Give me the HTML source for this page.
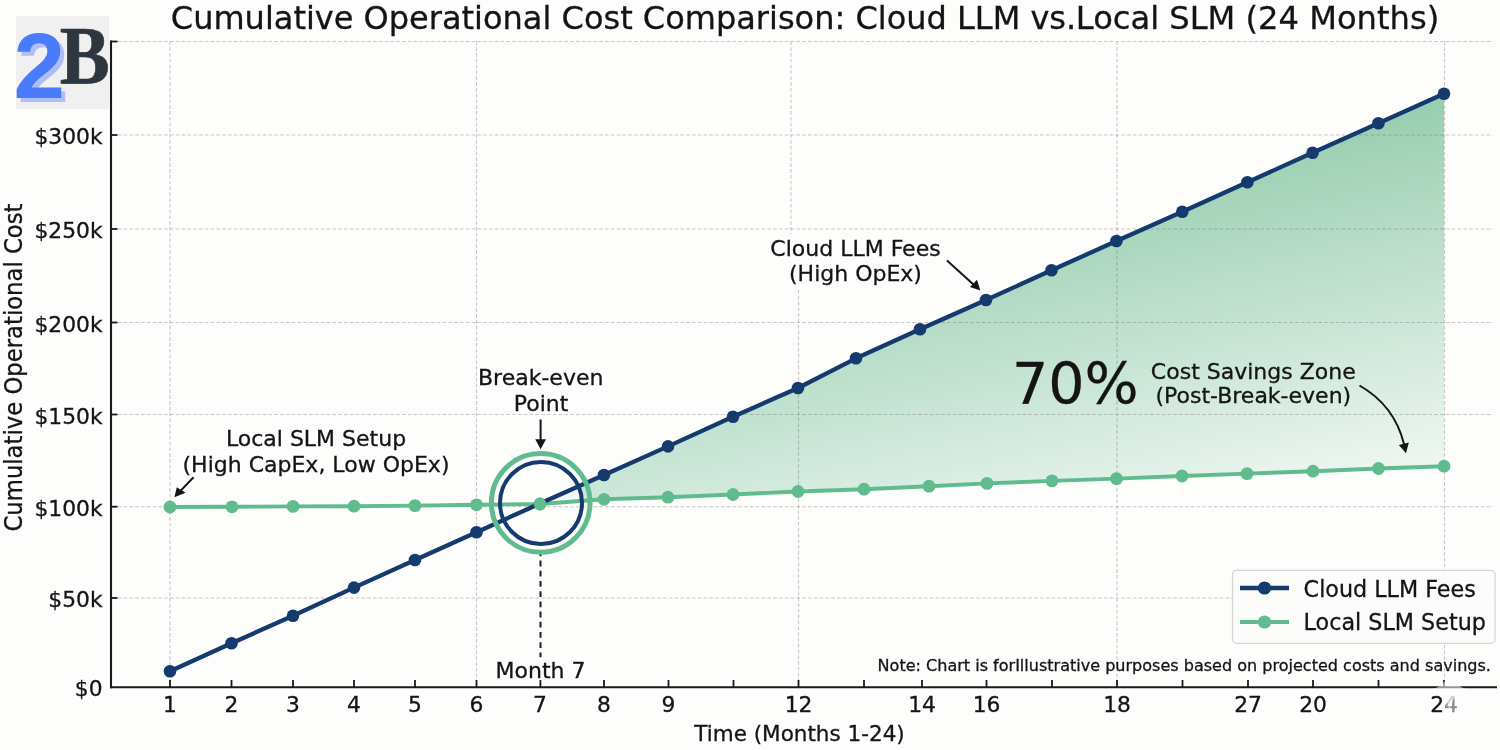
<!DOCTYPE html>
<html lang="en">
<head>
<meta charset="utf-8">
<title>Cumulative Operational Cost Comparison</title>
<style>
html,body{margin:0;padding:0;background:#fdfdfc;}
body{width:1500px;height:750px;overflow:hidden;position:relative;}
svg{position:absolute;left:0;top:0;display:block;will-change:transform;}
#fill{position:absolute;left:0;top:0;width:1500px;height:750px;
background:radial-gradient(circle at 545px 501.6px, rgba(203,231,216,1) 0px, rgba(203,231,216,0) 960px),
conic-gradient(from 0deg at 545px 501.6px, #99ceb0 65.6deg, #f2f8f4 87.74deg);
clip-path:polygon(548px 500px, 604px 475px, 668px 446.4px, 733px 416.8px, 798px 388px, 856px 358.3px, 920px 329.3px, 986px 300px, 1051.5px 270.3px, 1116.5px 241px, 1182.3px 211.7px, 1247.4px 182.2px, 1312.6px 152.8px, 1378.4px 123.3px, 1444px 93.7px, 1444px 466.2px, 1378.5px 468.5px, 1313px 471.2px, 1247px 473.6px, 1182px 476px, 1116.5px 478.6px, 1052px 480.9px, 987px 483.4px, 929px 486.2px, 864px 489.2px, 798px 491.5px, 733px 494.5px, 668px 497.2px, 604px 499.3px);}
text{font-family:"DejaVu Sans","Liberation Sans",sans-serif;fill:#141414;stroke:#141414;stroke-width:0.3px;}
.tick{font-size:21.8px;}
.ann{font-size:22px;}
.grid{stroke:#6f6a6c;stroke-opacity:0.36;stroke-width:1.1;stroke-dasharray:3.6 2.2;fill:none;}
.axis{stroke:#1a1a1a;stroke-width:2.1;fill:none;}
.tk{stroke:#1a1a1a;stroke-width:1.8;fill:none;}
.logo2{font-family:"Liberation Sans","DejaVu Sans",sans-serif;font-weight:bold;stroke:none;}
.logoB{font-family:"Liberation Serif","DejaVu Serif",serif;font-weight:bold;stroke:none;}
</style>
</head>
<body>
<div id="fill"></div>
<svg width="1500" height="750" viewBox="0 0 1500 750">
<text x="170.8" y="28.6" font-size="32">Cumulative Operational Cost Comparison: Cloud LLM vs.<tspan x="1075.8" font-size="32.15">Local SLM (24 Months)</tspan></text>
<circle cx="541" cy="503" r="41" fill="#fdfdfc" fill-opacity="0.75"/>
<g class="grid">
<line x1="112" y1="598" x2="1493" y2="598"/>
<line x1="112" y1="506.7" x2="1493" y2="506.7"/>
<line x1="112" y1="414.5" x2="1493" y2="414.5"/>
<line x1="112" y1="322.5" x2="1493" y2="322.5"/>
<line x1="112" y1="229" x2="1493" y2="229"/>
<line x1="112" y1="135" x2="1493" y2="135"/>
<line x1="112" y1="41.5" x2="1493" y2="41.5"/>
<line x1="170" y1="41.5" x2="170" y2="686"/>
<line x1="476.5" y1="41.5" x2="476.5" y2="686"/>
<line x1="1117" y1="41.5" x2="1117" y2="686"/>
<line x1="1444.5" y1="41.5" x2="1444.5" y2="686"/>
<line x1="791" y1="41.5" x2="791" y2="234"/>
<line x1="798.5" y1="290" x2="798.5" y2="686"/>
</g>
<line x1="540.5" y1="550.4" x2="540.5" y2="657.3" stroke="#1c1c1c" stroke-width="2" stroke-dasharray="5.8 4.4"/>
<polyline points="170,507 232,506.8 293,506.4 354,506.2 415,505.6 476.5,504.8 540,504 604,499.3 668,497.2 733,494.5 798,491.5 864,489.2 929,486.2 987,483.4 1052,480.9 1116.5,478.6 1182,476 1247,473.6 1313,471.2 1378.5,468.5 1444,466.2" fill="none" stroke="#60bc8e" stroke-width="3.9" stroke-linejoin="round"/>
<g fill="#60bc8e"><circle cx="170" cy="507" r="6.4"/><circle cx="232" cy="506.8" r="6.4"/><circle cx="293" cy="506.4" r="6.4"/><circle cx="354" cy="506.2" r="6.4"/><circle cx="415" cy="505.6" r="6.4"/><circle cx="476.5" cy="504.8" r="6.4"/><circle cx="540" cy="504" r="6.4"/><circle cx="604" cy="499.3" r="6.4"/><circle cx="668" cy="497.2" r="6.4"/><circle cx="733" cy="494.5" r="6.4"/><circle cx="798" cy="491.5" r="6.4"/><circle cx="864" cy="489.2" r="6.4"/><circle cx="929" cy="486.2" r="6.4"/><circle cx="987" cy="483.4" r="6.4"/><circle cx="1052" cy="480.9" r="6.4"/><circle cx="1116.5" cy="478.6" r="6.4"/><circle cx="1182" cy="476" r="6.4"/><circle cx="1247" cy="473.6" r="6.4"/><circle cx="1313" cy="471.2" r="6.4"/><circle cx="1378.5" cy="468.5" r="6.4"/><circle cx="1444" cy="466.2" r="6.4"/></g>
<polyline points="170,671.3 231.5,643.3 293,615.7 354,587.6 415,560 476.5,532.2 540.5,503.3 604,475 668,446.4 733,416.8 798,388 856,358.3 920,329.3 986,300 1051.5,270.3 1116.5,241 1182.3,211.7 1247.4,182.2 1312.6,152.8 1378.4,123.3 1444,93.7" fill="none" stroke="#143a6e" stroke-width="4.3" stroke-linejoin="round"/>
<g fill="#143a6e"><circle cx="170" cy="671.3" r="6.3"/><circle cx="231.5" cy="643.3" r="6.3"/><circle cx="293" cy="615.7" r="6.3"/><circle cx="354" cy="587.6" r="6.3"/><circle cx="415" cy="560" r="6.3"/><circle cx="476.5" cy="532.2" r="6.3"/><circle cx="604" cy="475" r="6.3"/><circle cx="668" cy="446.4" r="6.3"/><circle cx="733" cy="416.8" r="6.3"/><circle cx="798" cy="388" r="6.3"/><circle cx="856" cy="358.3" r="6.3"/><circle cx="920" cy="329.3" r="6.3"/><circle cx="986" cy="300" r="6.3"/><circle cx="1051.5" cy="270.3" r="6.3"/><circle cx="1116.5" cy="241" r="6.3"/><circle cx="1182.3" cy="211.7" r="6.3"/><circle cx="1247.4" cy="182.2" r="6.3"/><circle cx="1312.6" cy="152.8" r="6.3"/><circle cx="1378.4" cy="123.3" r="6.3"/><circle cx="1444" cy="93.7" r="6.3"/></g>
<circle cx="540.7" cy="502.9" r="49.3" fill="none" stroke="#60bc8e" stroke-width="5"/>
<circle cx="541" cy="503" r="41" fill="none" stroke="#143a6e" stroke-width="4"/>
<circle cx="540" cy="504" r="6.4" fill="#60bc8e"/>
<line class="axis" x1="111" y1="40.5" x2="111" y2="688.3"/>
<line class="axis" x1="110" y1="687.2" x2="1497" y2="687.2"/>
<g class="tk">
<line x1="170" y1="680" x2="170" y2="687"/>
<line x1="231.5" y1="680" x2="231.5" y2="687"/>
<line x1="293" y1="680" x2="293" y2="687"/>
<line x1="354" y1="680" x2="354" y2="687"/>
<line x1="415" y1="680" x2="415" y2="687"/>
<line x1="476.5" y1="680" x2="476.5" y2="687"/>
<line x1="540.4" y1="680" x2="540.4" y2="687"/>
<line x1="604" y1="680" x2="604" y2="687"/>
<line x1="668.5" y1="680" x2="668.5" y2="687"/>
<line x1="733.5" y1="680" x2="733.5" y2="687"/>
<line x1="798.5" y1="680" x2="798.5" y2="687"/>
<line x1="864" y1="680" x2="864" y2="687"/>
<line x1="922" y1="680" x2="922" y2="687"/>
<line x1="986.5" y1="680" x2="986.5" y2="687"/>
<line x1="1052" y1="680" x2="1052" y2="687"/>
<line x1="1117" y1="680" x2="1117" y2="687"/>
<line x1="1182.5" y1="680" x2="1182.5" y2="687"/>
<line x1="1248" y1="680" x2="1248" y2="687"/>
<line x1="1313" y1="680" x2="1313" y2="687"/>
<line x1="1378.5" y1="680" x2="1378.5" y2="687"/>
<line x1="1444" y1="680" x2="1444" y2="687"/>
<line x1="111" y1="598" x2="117.5" y2="598"/>
<line x1="111" y1="506.7" x2="117.5" y2="506.7"/>
<line x1="111" y1="414.5" x2="117.5" y2="414.5"/>
<line x1="111" y1="322.5" x2="117.5" y2="322.5"/>
<line x1="111" y1="229" x2="117.5" y2="229"/>
<line x1="111" y1="135" x2="117.5" y2="135"/>
<line x1="111" y1="41.5" x2="117.5" y2="41.5"/>
</g>
<g class="tick" text-anchor="middle">
<text x="170" y="712.3">1</text>
<text x="231.5" y="712.3">2</text>
<text x="293" y="712.3">3</text>
<text x="354" y="712.3">4</text>
<text x="415" y="712.3">5</text>
<text x="476.5" y="712.3">6</text>
<text x="540" y="712.3">7</text>
<text x="604" y="712.3">8</text>
<text x="668.5" y="712.3">9</text>
<text x="798.5" y="712.3">12</text>
<text x="922" y="712.3">14</text>
<text x="986.5" y="712.3">16</text>
<text x="1117" y="712.3">18</text>
<text x="1248" y="712.3">27</text>
<text x="1313" y="712.3">20</text>
<text x="1444" y="712.3">2<tspan style="fill:#8c8c8c;stroke:#8c8c8c">4</tspan></text>
</g>
<g class="tick" text-anchor="end">
<text x="102.6" y="696.4">$0</text>
<text x="102.6" y="607.4">$50k</text>
<text x="102.6" y="516.1">$100k</text>
<text x="102.6" y="423.9">$150k</text>
<text x="102.6" y="331.9">$200k</text>
<text x="102.6" y="238.4">$250k</text>
<text x="102.6" y="144.4">$300k</text>
</g>
<text x="799.5" y="741" font-size="21.5" text-anchor="middle">Time (Months 1-24)</text>
<text transform="translate(22.4,367.5) rotate(-90)" font-size="24" text-anchor="middle" textLength="328" lengthAdjust="spacingAndGlyphs">Cumulative Operational Cost</text>
<g class="ann" text-anchor="middle">
<text x="316" y="445.5">Local SLM Setup</text>
<text x="316" y="471.5">(High CapEx, Low OpEx)</text>
<text x="540.7" y="385">Break-even</text>
<text x="541" y="410.7">Point</text>
<text x="540.5" y="677.7">Month 7</text>
<text x="855.5" y="256">Cloud LLM Fees</text>
<text x="855.5" y="281">(High OpEx)</text>
<text x="1253.3" y="378.5">Cost Savings Zone</text>
<text x="1253.3" y="403.3">(Post-Break-even)</text>
</g>
<text x="1012" y="404" font-size="57">70%</text>
<text x="877.6" y="671.2" font-size="16.05">Note: Chart is forIllustrative purposes based on projected costs and savings.</text>
<g stroke="#151515" stroke-width="2" fill="none">
<line x1="193.6" y1="477.2" x2="180" y2="491.4"/>
<line x1="540.6" y1="419.5" x2="540.6" y2="441"/>
<line x1="947" y1="260.5" x2="974" y2="285"/>
<path d="M1359.5,385.5 C1385,400 1398,420 1404,444"/>
</g>
<g fill="#151515">
<polygon points="174.4,497.2 176.8,487.2 185.6,492.8"/>
<polygon points="540.6,449.3 535.2,439.3 546,439.3"/>
<polygon points="980.3,290.6 970,287 977,279.8"/>
<polygon points="1406,453.2 1398.8,445 1408.8,442.5"/>
</g>
<rect x="1232.5" y="570.3" width="262.5" height="73" rx="4" ry="4" fill="#fcfcfb" fill-opacity="0.97" stroke="#d6d6d6" stroke-width="1.3"/>
<line x1="1240" y1="588" x2="1289" y2="588" stroke="#143a6e" stroke-width="4.4"/>
<circle cx="1264.5" cy="588" r="6.6" fill="#143a6e"/>
<line x1="1240" y1="622" x2="1289" y2="622" stroke="#60bc8e" stroke-width="4.2"/>
<circle cx="1264.5" cy="622" r="6.6" fill="#60bc8e"/>
<text x="1303.6" y="597" font-size="22.25">Cloud LLM Fees</text>
<text x="1303.6" y="630.3" font-size="22.25">Local SLM Setup</text>
<path d="M1449.5,664 Q1449.5,690 1475.5,690 Q1449.5,690 1449.5,716 Q1449.5,690 1423.5,690 Q1449.5,690 1449.5,664 Z" fill="#fdfdfc" fill-opacity="0.55"/>
<rect x="16" y="16" width="93" height="93" fill="#f0f0f0"/>
<text class="logo2" x="17.6" y="102" font-size="92.5" style="fill:#afbef6">2</text>
<text class="logo2" x="13.6" y="98" font-size="92.5" style="fill:#4a7bfb">2</text>
<text class="logoB" x="59.8" y="83" font-size="82.5" style="fill:#2e3740;stroke:#2e3740;stroke-width:0.7px" textLength="50" lengthAdjust="spacingAndGlyphs">B</text>
</svg>
</body>
</html>
